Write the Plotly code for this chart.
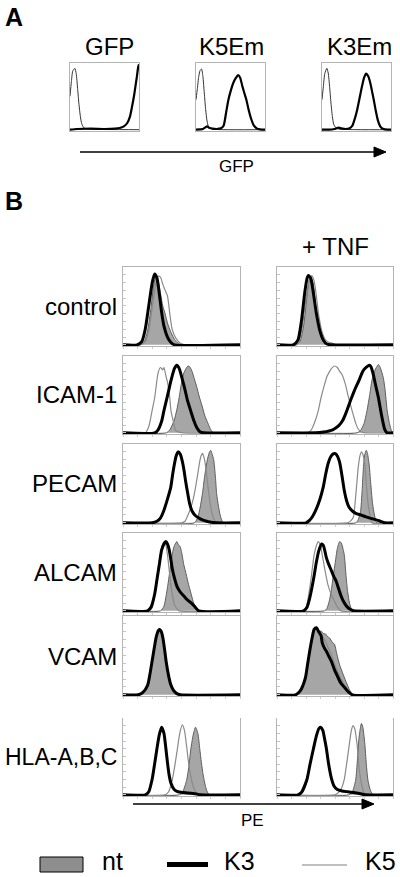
import plotly.graph_objects as go

W, H = 400, 877
FONT = "Liberation Sans, Arial, Helvetica, sans-serif"

# ---------------- Panel A: GFP histograms (x: channel 0-100, y: % of box height)
a_titles = ["GFP", "K5Em", "K3Em"]
a_gfp_neg = [[0,50],[2,72],[4,88],[7,92],[9,84],[11,62],[13,38],[15,20],[17,9],[20,3],[25,1],[30,0.5],[100,0]]
a_gfp_pos = [[0,0],[10,1],[30,1.5],[50,1],[65,1.5],[72,2.5],[78,5],[83,10],[87,20],[90,35],[93,52],[95,66],[97,80],[98.5,92],[99.5,97],[100,97]]
a_k5em_neg = [[0,45],[2,62],[4,80],[6,89],[8,91],[10,80],[12,55],[14,30],[16,13],[18,5],[21,2],[26,0.5],[100,0]]
a_k5em_pos = [[0,0],[6,0.5],[10,1],[13,3],[16,5],[19,3],[24,1.5],[30,1],[36,2],[40,6],[44,28],[47,45],[50,57],[54,70],[58,78],[61,82],[64,78],[67,66],[70,55],[73,45],[76,31],[80,16],[84,6],[88,2],[93,0.5],[100,0]]
a_k3em_neg = [[0,45],[2,65],[4,84],[7,92],[9,85],[11,65],[13,40],[15,20],[17,8],[20,3],[24,1],[100,0]]
a_k3em_pos = [[0,0],[10,0],[18,1],[24,3],[28,2],[34,1],[40,2],[44,6],[48,18],[51,30],[55,50],[58,65],[61,78],[64,84],[67,80],[70,70],[73,55],[75,45],[78,28],[81,14],[85,4],[89,1],[95,0],[100,0]]

# ---------------- Panel B: PE histograms (untreated, + TNF)
row_labels = ["control", "ICAM-1", "PECAM", "ALCAM", "VCAM", "HLA-A,B,C"]
legend_labels = ["nt", "K3", "K5"]

control_nt = [[0,0],[14,0],[18,4],[21,18],[24,48],[26,74],[28,87],[30,82],[32,66],[34,50],[36,40],[38,28],[41,16],[44,7],[47,2],[50,0],[100,0]]
control_k3 = [[0,0],[12,0],[16,4],[19,20],[22,50],[25,80],[27,91],[29,86],[31,66],[33,42],[35,24],[38,10],[41,3],[44,0],[100,0]]
control_k5 = [[0,0],[15,0],[19,4],[22,18],[25,48],[28,78],[30,88],[32,87],[34,78],[36,70],[38,63],[40,40],[42,20],[45,9],[49,2],[53,0],[100,0]]
control_tnf_nt = [[0,0],[17,0],[20,5],[23,25],[26,65],[28,85],[29,87],[31,80],[33,55],[35,30],[38,12],[41,4],[45,0],[100,0]]
control_tnf_k3 = [[0,0],[14,0],[18,6],[21,30],[24,68],[26,86],[27,89],[29,86],[31,70],[34,40],[37,18],[40,6],[43,1],[46,0],[100,0]]
control_tnf_k5 = [[0,0],[16,0],[19,5],[22,25],[25,60],[28,84],[30,89],[32,82],[34,62],[36,38],[39,16],[42,6],[45,3],[48,2],[51,0],[100,0]]

icam_nt = [[0,0],[37,0],[40,4],[43.7,16],[46,30],[48,46],[50,65],[52,78],[55.5,87],[57,86],[59,80],[61,70],[63,60],[65,48],[67.6,35],[70,22],[73,11],[75,4],[77.5,0],[100,0]]
icam_k3 = [[0,0],[27,0],[30,4],[33,15],[35,29],[38,48],[41,68],[44,84],[46,88],[48,84],[51,68],[53,56],[55,43],[58,28],[60.5,16],[63,7],[66,1],[69,0],[100,0]]
icam_k5 = [[0,0],[19,0],[22,8],[25,30],[27,45],[30,78],[32,85],[34,82],[35,85],[37,72],[38,66],[40,45],[41,29],[43,15],[45,3],[48,1],[52,0],[100,0]]
icam_tnf_nt = [[0,0],[69,0],[72,3],[75,12],[77.6,29],[80,50],[81.8,68],[84,80],[86,86],[87.4,89],[89,85],[91.6,72],[93,58],[95,29],[97,12],[98.6,3],[100,0]]
icam_tnf_k3 = [[0,0],[33,0],[40,1],[48,4],[53,9],[56.6,16],[60,28],[63.6,43],[67,56],[70.6,68],[74,80],[76,84],[79.6,88],[81,86],[83,76],[85,62],[87.4,46],[89.5,28],[91.6,12],[93,4],[95,0],[100,0]]
icam_tnf_k5 = [[0,0],[27,0],[30,5],[33,16],[35.6,29],[38,46],[41,63],[43,73],[45,79],[47,84],[49.6,87],[52,85],[54,80],[56,76],[59,63],[61,50],[63.6,35],[66,22],[68,12],[70,5],[73,1],[76,0],[100,0]]

pecam_nt = [[0,0],[61,0],[64,7],[66,20],[68,38],[69.6,57],[71,71],[72.4,82],[74,90],[75,92],[76,88],[77.5,80],[79,58],[80,37],[81.5,22],[83,10],[84.5,3],[86,0],[100,0]]
pecam_k3 = [[0,0],[25,0],[29,2],[32,6],[35,16],[38,30],[40.8,45],[42.5,62],[44,75],[45.5,85],[47,90],[49,87],[50.7,78],[52,68],[53.5,53],[55,40],[57,24],[59,15],[62,9],[66,5],[69,3],[74,1],[80,0],[100,0]]
pecam_k5 = [[0,0],[50,0],[53,2],[55,8],[57.7,18],[60,30],[62,45],[64,63],[65.6,78],[67,86],[68,88],[69,84],[70,78],[71.5,60],[73,41],[74.5,25],[76,12],[78,4],[80,0],[100,0]]
pecam_tnf_nt = [[0,0],[68,0],[70,4],[72,14],[73.4,41],[74.5,70],[75.6,86],[77,92],[78,88],[79.6,72],[80.5,55],[82.4,24],[84,10],[86,0],[100,0]]
pecam_tnf_k3 = [[0,0],[25,0],[28,3],[31,9],[34,18],[37,30],[39.8,45],[42,62],[44,75],[46,83],[48,87],[49.6,88],[51,87],[53.8,78],[56,60],[58,41],[60,28],[62,20],[65,15],[68,12],[72,10],[76,8],[80,6],[85,4],[89,2],[93,0],[100,0]]
pecam_tnf_k5 = [[0,0],[61,0],[64,3],[66,8],[67,20],[68.5,45],[70,70],[71.5,85],[72.8,90],[74,87],[75.6,75],[76.5,60],[77.5,40],[78.4,26],[80,10],[81.8,0],[100,0]]

alcam_nt = [[0,0],[32,0],[35,6],[38,30],[40.8,59],[42.5,76],[43.7,83],[45,87],[46,89],[47.3,85],[48.7,83],[50,76],[52,59],[54,47],[56,34],[58,23],[60,12],[62,4],[64,0],[100,0]]
alcam_k3 = [[0,0],[21,0],[24,5],[27,21],[29,40],[31,59],[33,78],[35,86],[36.6,89],[38,86],[39.4,79],[41,65],[42,55],[44,42],[46.5,30],[49,24],[52,19],[55,14],[57.7,11],[61,6],[64.8,0],[100,0]]
alcam_k5 = [[0,0],[22,0],[25,4],[28,30],[30,55],[31.8,72],[33.5,84],[35,89],[36.5,86],[38,72],[39.5,52],[40.8,34],[42.5,18],[44,8],[46,3],[48,0],[100,0]]
alcam_tnf_nt = [[0,0],[41,0],[43,3],[45,12],[46.8,26],[48.5,45],[50.4,64],[52,80],[54,89],[55.5,87],[57,79],[58,72],[59.5,45],[60.8,26],[62.5,10],[64,3],[66,0],[100,0]]
alcam_tnf_k3 = [[0,0],[23,0],[26,5],[28,15],[30,29],[32,45],[34,63],[36,77],[38.4,86],[40,84],[42.6,68],[44.5,60],[46.8,52],[49,44],[51,38],[53,29],[55,20],[57,13],[60,6],[63,2],[66,0],[100,0]]
alcam_tnf_k5 = [[0,0],[22,0],[25,4],[28.6,33],[30.5,55],[32,72],[34,84],[35.6,89],[37,86],[39,72],[41,55],[44,33],[46.5,22],[49.6,12],[52,5],[55,0],[100,0]]

vcam_nt = [[0,0],[13,0],[17,3],[21,12],[23,25],[25,42],[27,60],[28.5,72],[30,80],[31.5,83],[33,80],[34,72],[35.5,58],[37,42],[39,26],[40.8,14],[43,7],[46,2],[49,0],[100,0]]
vcam_k3 = [[0,0],[13,0],[17,3],[21,12],[23,26],[25,44],[27,62],[28.5,74],[30,81],[31,83],[32.5,81],[34,73],[35.5,58],[37,41],[39,24],[40.8,13],[43,6],[46,1.5],[49,0],[100,0]]
vcam_k5 = [[0,0],[13,0],[17,3],[21,12],[23,25],[25,43],[27,61],[28.5,73],[30,80],[31.5,82],[33,79],[34,71],[35.5,57],[37,42],[39,26],[40.8,14],[43,7],[46,2],[49,0],[100,0]]
vcam_tnf_nt = [[0,0],[16,0],[20,5],[24.4,21],[26.5,40],[28.6,59],[30.5,73],[32,82],[34,85],[36,80],[38,81],[39.8,78],[42,77],[43.5,74],[45.4,72],[47.5,67],[49.6,64],[51.5,52],[54,38],[56.5,28],[59.4,17],[62,8],[64,3],[66,0],[100,0]]
vcam_tnf_k3 = [[0,0],[16,0],[20,5],[24.4,21],[26.5,40],[28.6,59],[30.5,74],[32,83],[34,85],[36,80],[38,75],[39,66],[41,59],[43,54],[45,48],[47,42],[49.5,32],[52,24],[55,15],[59,8],[62,3],[65,0],[100,0]]
vcam_tnf_k5 = [[0,0],[16,0],[20,5],[24.4,21],[26.5,40],[28.6,59],[30.5,74],[32,82],[34,84],[36,80],[38,77],[40,72],[42,67],[44,60],[46,54],[48.5,44],[51,34],[54,24],[57,15],[60,8],[63,3],[66,0],[100,0]]

hla_nt = [[0,0],[48,0],[51,4],[54.4,19],[56.5,40],[58,60],[60,78],[62,88],[64,80],[65.6,60],[67,42],[68.5,26],[70.5,11],[72,4],[74,0],[100,0]]
hla_k3 = [[0,0],[19,0],[22,4],[25,21],[27,40],[29,60],[31,78],[33,88],[35,80],[36.6,61],[38,42],[39.4,26],[41,15],[43.7,7],[47,4],[52,3],[58,2],[63,1],[66,0],[100,0]]
hla_k5 = [[0,0],[36,0],[39,4],[42,19],[44.5,40],[46.5,60],[48.5,80],[50.7,91],[52.5,84],[54.4,63],[56,42],[57.7,26],[60,11],[62,4],[64,0],[100,0]]
hla_tnf_nt = [[0,0],[62,0],[65,4],[67.8,19],[69.3,45],[70.6,73],[72,88],[72.8,93],[74,88],[75.6,68],[77,40],[78.4,19],[80.5,6],[83,0],[100,0]]
hla_tnf_k3 = [[0,0],[18,0],[21,3],[25.8,20],[28.5,40],[31.4,60],[34,77],[36,86],[37.5,88],[39.5,84],[41,73],[42.6,60],[44.5,40],[46.8,22],[49,12],[52,7],[56,5],[61,4],[66,3],[70,2],[73,1],[76,0],[100,0]]
hla_tnf_k5 = [[0,0],[50,0],[53,3],[56,10],[58,20],[60,40],[62,62],[64,83],[65.5,90],[67,86],[69,66],[70.5,40],[72,21],[74,7],[76,0],[100,0]]

b_rows = [
    ((control_nt, control_k3, control_k5), (control_tnf_nt, control_tnf_k3, control_tnf_k5)),
    ((icam_nt, icam_k3, icam_k5), (icam_tnf_nt, icam_tnf_k3, icam_tnf_k5)),
    ((pecam_nt, pecam_k3, pecam_k5), (pecam_tnf_nt, pecam_tnf_k3, pecam_tnf_k5)),
    ((alcam_nt, alcam_k3, alcam_k5), (alcam_tnf_nt, alcam_tnf_k3, alcam_tnf_k5)),
    ((vcam_nt, vcam_k3, vcam_k5), (vcam_tnf_nt, vcam_tnf_k3, vcam_tnf_k5)),
    ((hla_nt, hla_k3, hla_k5), (hla_tnf_nt, hla_tnf_k3, hla_tnf_k5)),
]
a_sets = [(a_gfp_neg, a_gfp_pos), (a_k5em_neg, a_k5em_pos), (a_k3em_neg, a_k3em_pos)]

# ---------------- layout geometry (pixels)
A_X = [(70, 139), (196, 265), (322, 391)]
A_TITLE_X = [109, 232, 359]
A_Y = (63, 131)
B_X = [(123, 240), (277, 393)]
B_Y = [(267, 346), (356, 434), (444, 524), (533, 612), (616, 696), (718, 796)]

BOX = "#b4b4b4"
NT_FILL = "#a6a6a6"
NT_LINE = "#5e5e5e"
K5_COL = "#8a8a8a"


def px_x(p):
    return p / W


def px_y(p):
    return 1 - p / H


def xs(pts):
    return [p[0] for p in pts]


def ys(pts):
    return [p[1] for p in pts]


fig = go.Figure()
layout_axes = {}
idx = [0]


def new_axes(xr, yr, yrange, ticks, top=True):
    idx[0] += 1
    i = idx[0]
    xn = "xaxis" if i == 1 else f"xaxis{i}"
    yn = "yaxis" if i == 1 else f"yaxis{i}"
    xa = "x" if i == 1 else f"x{i}"
    ya = "y" if i == 1 else f"y{i}"
    layout_axes[xn] = dict(domain=[px_x(xr[0]), px_x(xr[1])], range=[0, 100], anchor=ya,
                           showgrid=False, zeroline=False, showline=True, mirror=top,
                           linecolor=BOX, linewidth=1, showticklabels=False,
                           ticks="outside" if ticks else "", ticklen=2, tickcolor="#cccccc",
                           dtick=12.5, fixedrange=True)
    layout_axes[yn] = dict(domain=[px_y(yr[1]), px_y(yr[0])], range=yrange, anchor=xa,
                           showgrid=False, zeroline=False, showline=True, mirror=True,
                           linecolor=BOX, linewidth=1, showticklabels=False,
                           ticks="inside" if ticks else "", ticklen=3, tickcolor="#c4c4c4",
                           dtick=10, fixedrange=True)
    return xa, ya


# Panel A
for (neg, pos), xr in zip(a_sets, A_X):
    xa, ya = new_axes(xr, A_Y, [-2, 100], ticks=False)
    fig.add_trace(go.Scatter(x=xs(neg), y=ys(neg), xaxis=xa, yaxis=ya, mode="lines",
                             line=dict(color="#333333", width=1, shape="spline", smoothing=0.6),
                             showlegend=False, hoverinfo="skip"))
    fig.add_trace(go.Scatter(x=xs(pos), y=ys(pos), xaxis=xa, yaxis=ya, mode="lines",
                             line=dict(color="black", width=2.2, shape="spline", smoothing=0.6),
                             showlegend=False, hoverinfo="skip"))

# Panel B
for r, (pair, yr) in enumerate(zip(b_rows, B_Y)):
    for c, (curves, xr) in enumerate(zip(pair, B_X)):
        nt, k3, k5 = curves
        xa, ya = new_axes(xr, yr, [-1.5, 100], ticks=True, top=(r != 5))
        fig.add_trace(go.Scatter(x=xs(nt), y=ys(nt), xaxis=xa, yaxis=ya, mode="lines",
                                 fill="tozeroy", fillcolor=NT_FILL,
                                 line=dict(color=NT_LINE, width=1, shape="spline", smoothing=0.6),
                                 name="nt", showlegend=False, hoverinfo="skip"))
        fig.add_trace(go.Scatter(x=xs(k5), y=ys(k5), xaxis=xa, yaxis=ya, mode="lines",
                                 line=dict(color=K5_COL, width=1.2, shape="spline", smoothing=0.6),
                                 name="K5", showlegend=False, hoverinfo="skip"))
        fig.add_trace(go.Scatter(x=xs(k3), y=ys(k3), xaxis=xa, yaxis=ya, mode="lines",
                                 line=dict(color="black", width=3, shape="spline", smoothing=0.6),
                                 name="K3", showlegend=False, hoverinfo="skip"))

annotations = []


def text(t, x, y, size, anchor="center", bold=False, yanchor="middle"):
    annotations.append(dict(text=f"<b>{t}</b>" if bold else t, x=px_x(x), y=px_y(y),
                            xref="paper", yref="paper", xanchor=anchor, yanchor=yanchor,
                            showarrow=False, font=dict(family=FONT, size=size, color="black")))


text("A", 3, 17, 25, anchor="left", bold=True)
text("B", 3, 201, 25, anchor="left", bold=True)
for t, cx in zip(a_titles, A_TITLE_X):
    text(t, cx, 46, 24)
text("GFP", 236, 166, 17)
text("+ TNF", 335, 247, 24)
for t, yr in zip(row_labels, B_Y):
    size = 23 if len(t) > 8 else 24
    text(t, 119, (yr[0] + yr[1]) / 2, size, anchor="right")
text("PE", 252, 820, 17)

# legend (manual)
for t, lx in zip(legend_labels, [100, 222, 363]):
    text(t, lx, 877, 25, anchor="left", yanchor="bottom")

shapes = []


def arrow(x0, x1, y, head=12, half=5):
    shapes.append(dict(type="line", xref="paper", yref="paper", x0=px_x(x0), x1=px_x(x1 - head + 1),
                       y0=px_y(y), y1=px_y(y), line=dict(color="black", width=1.5)))
    shapes.append(dict(type="path", xref="paper", yref="paper",
                       path=f"M{px_x(x1 - head)},{px_y(y - half)} L{px_x(x1)},{px_y(y)} L{px_x(x1 - head)},{px_y(y + half)} Z",
                       fillcolor="black", line=dict(color="black", width=1)))


arrow(80, 386, 152)
arrow(133, 374, 804)

shapes.append(dict(type="rect", xref="paper", yref="paper", x0=px_x(40), x1=px_x(83),
                   y0=px_y(872), y1=px_y(857), fillcolor="#8e8e8e", line=dict(color="black", width=1)))
shapes.append(dict(type="line", xref="paper", yref="paper", x0=px_x(167), x1=px_x(208),
                   y0=px_y(864.5), y1=px_y(864.5), line=dict(color="black", width=5)))
shapes.append(dict(type="line", xref="paper", yref="paper", x0=px_x(302), x1=px_x(347),
                   y0=px_y(865), y1=px_y(865), line=dict(color="#aaaaaa", width=1.5)))

fig.update_layout(width=W, height=H, margin=dict(l=0, r=0, t=0, b=0),
                  paper_bgcolor="white", plot_bgcolor="white",
                  showlegend=False, annotations=annotations, shapes=shapes,
                  font=dict(family=FONT), **layout_axes)

fig.write_html("out.html", config={"displayModeBar": False},
               post_script="document.body.style.margin='0';document.body.style.overflow='hidden';")
